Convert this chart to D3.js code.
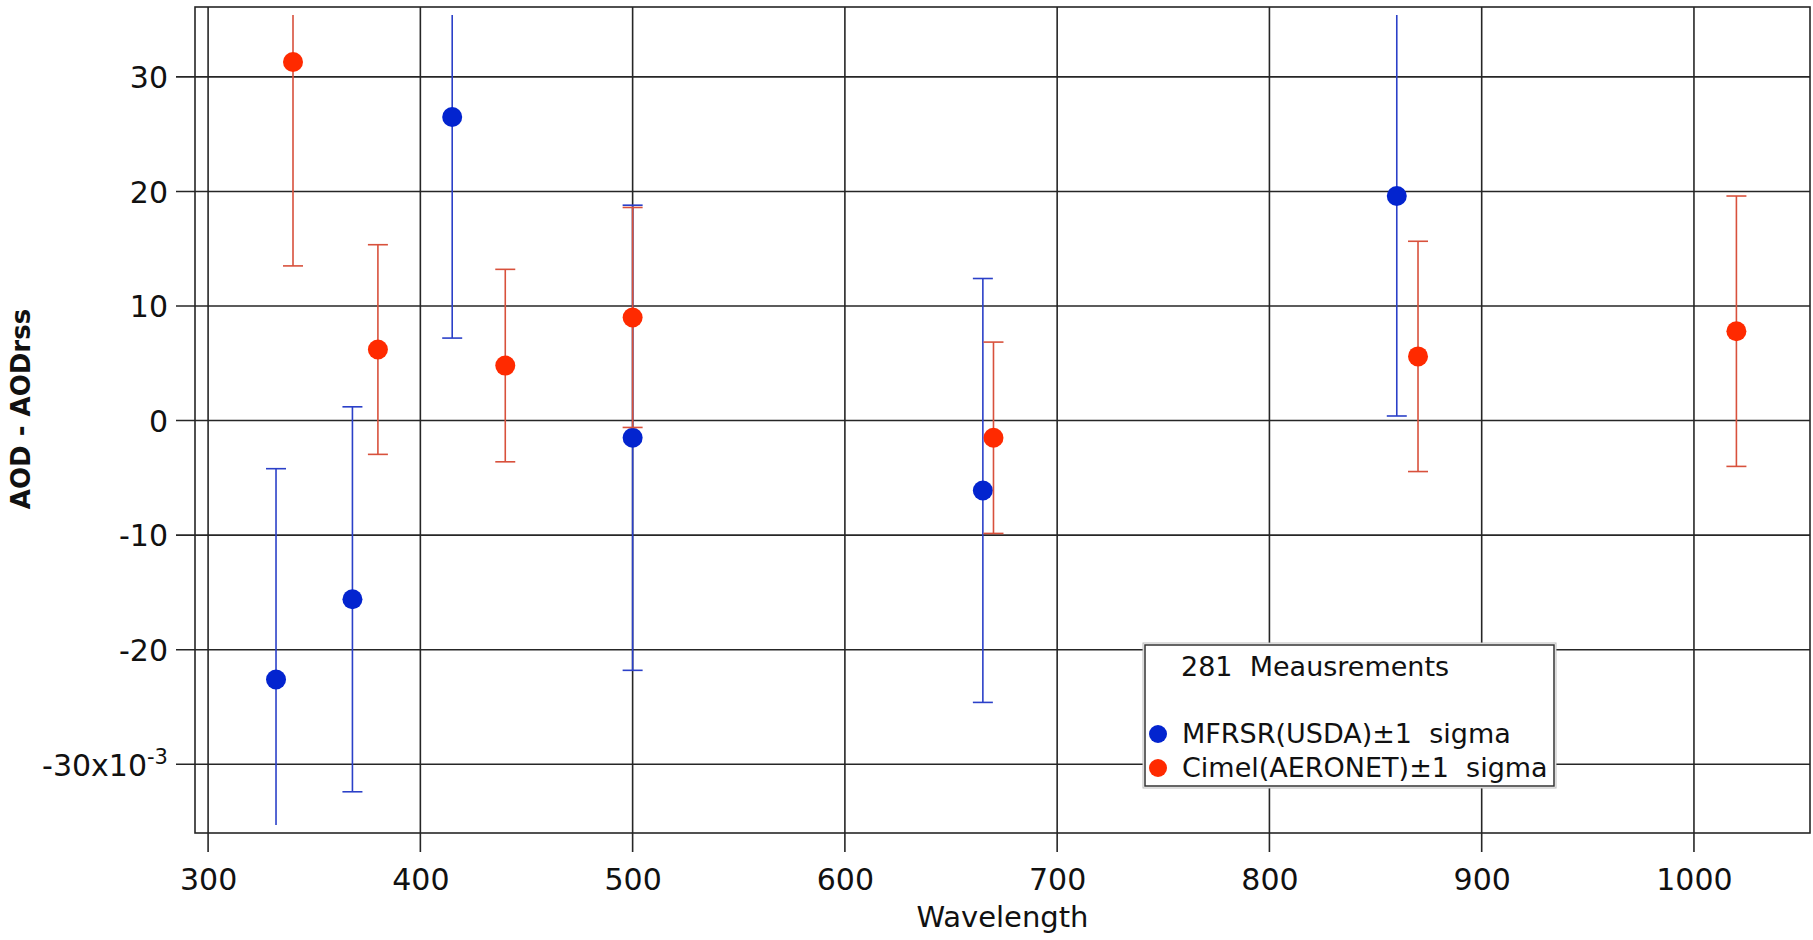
<!DOCTYPE html>
<html><head><meta charset="utf-8">
<script src="https://cdn.jsdelivr.net/npm/d3@7"></script>
<style>body{margin:0;background:#fff}svg{display:block}text{font-family:"DejaVu Sans",sans-serif;fill:#111}</style>
</head><body><svg id="c" width="1813" height="940"></svg>
<script>
// ---- data (values in units of 10^-3) ----
const xTicks = [300, 400, 500, 600, 700, 800, 900, 1000];
const yTicks = [-30, -20, -10, 0, 10, 20, 30];
const mfrsrWavelength = [332, 368, 415, 500, 665, 860];
const mfrsrValue      = [-22.6, -15.6, 26.5, -1.5, -6.1, 19.6];
const mfrsrSigma      = [18.4, 16.8, 19.3, 20.3, 18.5, 19.2];
const cimelWavelength = [340, 380, 440, 500, 670, 870, 1020];
const cimelValue      = [31.3, 6.2, 4.8, 9.0, -1.5, 5.6, 7.8];
const cimelSigma      = [17.8, 9.15, 8.4, 9.6, 8.35, 10.05, 11.8];
const legendTitle = "281  Meausrements";
const seriesNames = ["MFRSR(USDA)\u00b11  sigma", "Cimel(AERONET)\u00b11  sigma"];
const xTitle = "Wavelength";
const yTitle = "AOD - AODrss";

// ---- layout ----
const inner = {l: 203, r: 1802, t: 15, b: 825};
const frame = {l: 195, r: 1810, t: 7, b: 833};
const tickLen = 19;
const gridColor = "#262626";
const blueDot = "#0324cf", blueBar = "#2b40c8";
const redDot = "#ff2a00", redBar = "#d8513c";

const svg = d3.select("#c");
const x = d3.scaleLinear().domain([297.6, 1050.9]).range([inner.l, inner.r]);
const y = d3.scaleLinear().domain([-35.3, 35.4]).range([inner.b, inner.t]);

svg.append("defs").append("clipPath").attr("id", "clip")
  .append("rect").attr("x", inner.l).attr("y", inner.t)
  .attr("width", inner.r - inner.l).attr("height", inner.b - inner.t);

// grid + tick marks
const g = svg.append("g");
g.selectAll(".vg").data(xTicks).join("line")
  .attr("x1", d => x(d)).attr("x2", d => x(d))
  .attr("y1", frame.t).attr("y2", frame.b + tickLen)
  .attr("stroke", gridColor).attr("stroke-width", 1.6);
g.selectAll(".hg").data(yTicks).join("line")
  .attr("x1", frame.l - tickLen).attr("x2", frame.r)
  .attr("y1", d => y(d)).attr("y2", d => y(d))
  .attr("stroke", gridColor).attr("stroke-width", 1.6);
g.append("rect").attr("x", frame.l).attr("y", frame.t)
  .attr("width", frame.r - frame.l).attr("height", frame.b - frame.t)
  .attr("fill", "none").attr("stroke", gridColor).attr("stroke-width", 1.6);

const fmt = d => String(d);

// axes (labels only)
const xAxis = svg.append("g").attr("transform", `translate(0,${frame.b})`)
  .call(d3.axisBottom(x).tickValues(xTicks).tickSize(0).tickFormat(fmt));
xAxis.select(".domain").remove();
xAxis.selectAll("text").attr("y", 57).attr("dy", 0)
  .style("font-size", "30px").style("font-family", '"DejaVu Sans",sans-serif').attr("fill", "#111");

const yAxis = svg.append("g").attr("transform", `translate(${frame.l},0)`)
  .call(d3.axisLeft(y).tickValues(yTicks).tickSize(0).tickFormat(fmt));
yAxis.select(".domain").remove();
yAxis.selectAll("text").attr("x", -27).attr("dy", "0.36em")
  .style("font-size", "30px").style("font-family", '"DejaVu Sans",sans-serif').attr("fill", "#111");
yAxis.selectAll(".tick").filter(d => d === -30).select("text")
  .text(null)
  .call(t => {
    t.append("tspan").text("-30x10");
    t.append("tspan").text("-3").attr("dy", "-0.55em").style("font-size", "21px");
  });

// titles
svg.append("text").attr("x", (frame.l + frame.r) / 2).attr("y", 927)
  .attr("text-anchor", "middle").style("font-size", "29px").text(xTitle);
svg.append("text").attr("transform", "translate(21,409) rotate(-90)")
  .attr("text-anchor", "middle").attr("dy", "0.36em")
  .style("font-size", "26px").style("font-weight", "bold").text(yTitle);

// series
function drawSeries(wl, val, sig, barColor, dotColor) {
  const data = wl.map((w, i) => ({w, v: val[i], s: sig[i]}));
  const sg = svg.append("g").attr("clip-path", "url(#clip)");
  const capW = 10;
  sg.selectAll(".bar").data(data).join("line")
    .attr("x1", d => x(d.w)).attr("x2", d => x(d.w))
    .attr("y1", d => y(d.v + d.s)).attr("y2", d => y(d.v - d.s))
    .attr("stroke", barColor).attr("stroke-width", 1.6);
  sg.selectAll(".capT").data(data).join("line")
    .attr("x1", d => x(d.w) - capW).attr("x2", d => x(d.w) + capW)
    .attr("y1", d => y(d.v + d.s)).attr("y2", d => y(d.v + d.s))
    .attr("stroke", barColor).attr("stroke-width", 1.6);
  sg.selectAll(".capB").data(data).join("line")
    .attr("x1", d => x(d.w) - capW).attr("x2", d => x(d.w) + capW)
    .attr("y1", d => y(d.v - d.s)).attr("y2", d => y(d.v - d.s))
    .attr("stroke", barColor).attr("stroke-width", 1.6);
  sg.selectAll(".dot").data(data).join("circle")
    .attr("cx", d => x(d.w)).attr("cy", d => y(d.v)).attr("r", 10)
    .attr("fill", dotColor);
}
drawSeries(mfrsrWavelength, mfrsrValue, mfrsrSigma, blueBar, blueDot);
drawSeries(cimelWavelength, cimelValue, cimelSigma, redBar, redDot);

// legend
const lg = svg.append("g");
lg.append("rect").attr("x", 1143).attr("y", 643).attr("width", 413).attr("height", 145)
  .attr("fill", "#fff").attr("stroke", "#bbb").attr("stroke-width", 1);
lg.append("rect").attr("x", 1145).attr("y", 645).attr("width", 409).attr("height", 141)
  .attr("fill", "#fff").attr("stroke", "#333").attr("stroke-width", 1.5);
lg.append("text").attr("x", 1181).attr("y", 676).style("font-size", "27px")
  .style("white-space", "pre").text(legendTitle);
const legendColors = [blueDot, redDot];
seriesNames.forEach((name, i) => {
  const by = 743 + i * 34;
  lg.append("circle").attr("cx", 1158).attr("cy", by - 9).attr("r", 9).attr("fill", legendColors[i]);
  lg.append("text").attr("x", 1182).attr("y", by).style("font-size", "27px")
    .style("white-space", "pre").text(name);
});
</script></body></html>
